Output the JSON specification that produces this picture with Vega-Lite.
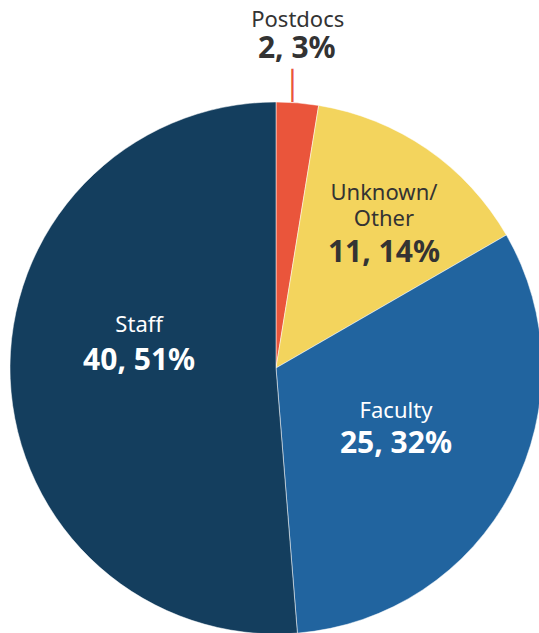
{
  "$schema": "https://vega.github.io/schema/vega-lite/v6.json",
  "width": 526,
  "height": 530,
  "autosize": {"type": "none"},
  "padding": {"left": 13, "top": 103, "right": 0, "bottom": 0},
  "background": "white",
  "config": {"view": {"stroke": null}, "text": {"font": "Noto Sans"}},
  "data": {
    "values": [
      {"group": "Postdocs", "label": "Postdocs", "count": 2},
      {"group": "Unknown/Other", "label": "Unknown/\nOther", "count": 11},
      {"group": "Faculty", "label": "Faculty", "count": 25},
      {"group": "Staff", "label": "Staff", "count": 40}
    ]
  },
  "transform": [
    {"joinaggregate": [{"op": "sum", "field": "count", "as": "total"}]},
    {"window": [{"op": "sum", "field": "count", "as": "cum_end"}], "sort": [{"field": "count", "order": "ascending"}], "frame": [null, 0]},
    {"calculate": "datum.cum_end - datum.count / 2", "as": "mid"},
    {"calculate": "datum.count + ', ' + round(datum.count / datum.total * 100) + '%'", "as": "value_label"}
  ],
  "layer": [
    {
      "mark": {"type": "arc", "outerRadius": 266, "stroke": "white", "strokeWidth": 0.5},
      "encoding": {
        "theta": {"field": "count", "type": "quantitative", "stack": true},
        "order": {"field": "count", "type": "quantitative", "sort": "ascending"},
        "color": {
          "field": "group",
          "type": "nominal",
          "sort": null,
          "scale": {"domain": ["Postdocs", "Unknown/Other", "Faculty", "Staff"], "range": ["#EA553B", "#F3D45D", "#21649F", "#143E5E"]},
          "legend": null
        }
      }
    },
    {
      "transform": [{"filter": "datum.group === 'Postdocs'"}],
      "encoding": {"theta": {"field": "mid", "type": "quantitative"}},
      "layer": [
        {"mark": {"type": "text", "text": "│", "font": "DejaVu Sans", "fontSize": 28, "radius": 282, "dx": -6, "baseline": "middle", "color": "#EA553B"}},
        {"mark": {"type": "text", "radius": 320, "dx": -4, "dy": -22, "fontSize": 22, "baseline": "alphabetic", "color": "#333333"}, "encoding": {"text": {"field": "label"}}},
        {"mark": {"type": "text", "radius": 320, "dx": -5, "dy": 9, "fontSize": 30, "fontWeight": "bold", "baseline": "alphabetic", "color": "#333333"}, "encoding": {"text": {"field": "value_label"}}}
      ]
    },
    {
      "transform": [{"filter": "datum.group === 'Unknown/Other'"}],
      "encoding": {"theta": {"field": "mid", "type": "quantitative"}},
      "layer": [
        {"mark": {"type": "text", "radius": 190, "dy": -11.6, "fontSize": 22, "lineHeight": 26, "lineBreak": "\n", "baseline": "alphabetic", "color": "#333333"}, "encoding": {"text": {"field": "label"}}},
        {"mark": {"type": "text", "radius": 190, "dy": 50.4, "fontSize": 30, "fontWeight": "bold", "baseline": "alphabetic", "color": "#333333"}, "encoding": {"text": {"field": "value_label"}}}
      ]
    },
    {
      "transform": [{"filter": "datum.group === 'Faculty'"}],
      "encoding": {"theta": {"field": "mid", "type": "quantitative"}},
      "layer": [
        {"mark": {"type": "text", "radius": 135.5, "dy": -13, "fontSize": 22, "baseline": "alphabetic", "color": "white"}, "encoding": {"text": {"field": "label"}}},
        {"mark": {"type": "text", "radius": 135.5, "dy": 22, "fontSize": 30, "fontWeight": "bold", "baseline": "alphabetic", "color": "white"}, "encoding": {"text": {"field": "value_label"}}}
      ]
    },
    {
      "transform": [{"filter": "datum.group === 'Staff'"}],
      "encoding": {"theta": {"field": "mid", "type": "quantitative"}},
      "layer": [
        {"mark": {"type": "text", "radius": 137, "dy": -41.5, "fontSize": 22, "baseline": "alphabetic", "color": "white"}, "encoding": {"text": {"field": "label"}}},
        {"mark": {"type": "text", "radius": 137, "dy": -3.5, "fontSize": 30, "fontWeight": "bold", "baseline": "alphabetic", "color": "white"}, "encoding": {"text": {"field": "value_label"}}}
      ]
    }
  ]
}
